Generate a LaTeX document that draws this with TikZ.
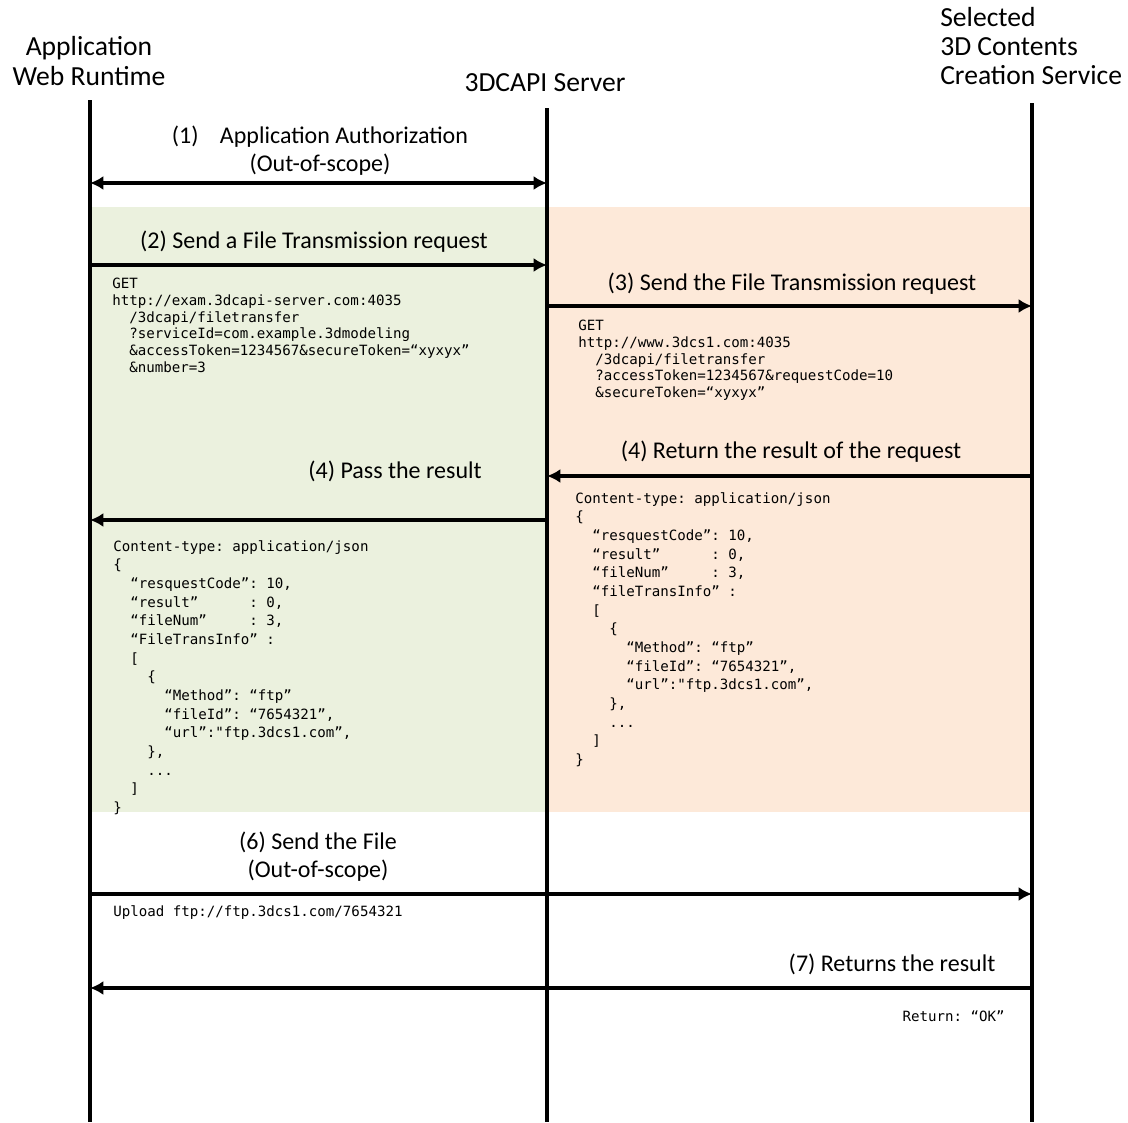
\documentclass[tikz,border=0pt]{standalone}
\usepackage{fontspec}
\setmainfont{Carlito}
\setmonofont{DejaVu Sans Mono}
\usetikzlibrary{arrows.meta}
\definecolor{reqgreen}{RGB}{235,241,222}
\definecolor{resorange}{RGB}{253,233,217}
\newcommand\codeind[1]{\hspace*{#1\dimexpr0.602em\relax}}
\begin{document}
\begin{tikzpicture}[x=0.75pt,y=-0.75pt,>={Latex[length=10pt,width=10.5pt]},
	life/.style={line width=2.4pt},
	msg/.style={line width=2.6pt,->},
	hdr/.style={font=\fontsize{20.7}{22}\selectfont,align=center,inner sep=0pt},
	lbl/.style={font=\fontsize{18}{21}\selectfont,align=center,inner sep=0pt},
	code/.style={font=\ttfamily\fontsize{10.6}{12.5}\selectfont\frenchspacing,align=left,inner sep=0pt,anchor=north west},
	json/.style={code,font=\ttfamily\fontsize{10.6}{14}\selectfont\frenchspacing}]
	\useasboundingbox (0,0) rectangle (1128,1122);
	% request / response areas
	\fill[reqgreen] (90,207) rectangle (547,812);
	\fill[resorange] (547,207) rectangle (1032,812);
	% lifelines
	\coordinate (app) at (90,100); \coordinate (srv) at (547,108); \coordinate (svc) at (1032,103);
	\coordinate (appbot) at (90,1122); \coordinate (srvbot) at (547,1122); \coordinate (svcbot) at (1032,1122);
	\draw[life] (app) -- (appbot) (srv) -- (srvbot) (svc) -- (svcbot);
	\node[hdr] (apphdr) at (89,61) {Application\\Web Runtime};
	\node[hdr] (srvhdr) at (545,83) {3DCAPI Server};
	\node[hdr,align=left,anchor=west] (svchdr) at (940,46) {Selected\\3D Contents\\Creation Service};
	% (1)
	\node[lbl] (auth) at (320,151) {(1)\hspace{16pt}Application Authorization\\(Out-of-scope)};
	\draw[msg,<->] (app |- 0,183) -- (srv |- 0,183);
	% (2)
	\node[lbl,anchor=base] (send) at (314,248) {(2) Send a File Transmission request};
	\draw[msg] (app |- 0,265) -- (srv |- 0,265);
	\node[code] (req1) at (112,278) {GET\\
		http://exam.3dcapi-server.com:4035\\
		\codeind{2}/3dcapi/filetransfer\\
		\codeind{2}?serviceId=com.example.3dmodeling\\
		\codeind{2}\&accessToken=1234567\&secureToken=“xyxyx”\\
		\codeind{2}\&number=3};
	% (3)
	\node[lbl,anchor=base] (fwd) at (792,290) {(3) Send the File Transmission request};
	\draw[msg] (srv |- 0,306) -- (svc |- 0,306);
	\node[code] (req2) at (578,320) {GET\\
		http://www.3dcs1.com:4035\\
		\codeind{2}/3dcapi/filetransfer\\
		\codeind{2}?accessToken=1234567\&requestCode=10\\
		\codeind{2}\&secureToken=“xyxyx”};
	% (4) return
	\node[lbl,anchor=base] (ret) at (791,458) {(4) Return the result of the request};
	\draw[msg] (svc |- 0,476) -- (srv |- 0,476);
	\node[json] (res2) at (575,492) {Content-type: application/json\\
		\{\\
		\codeind{2}“resquestCode”: 10,\\
		\codeind{2}“result”\codeind{6}: 0,\\
		\codeind{2}“fileNum”\codeind{5}: 3,\\
		\codeind{2}“fileTransInfo” :\\
		\codeind{2}[\\
		\codeind{4}\{\\
		\codeind{6}“Method”: “ftp”\\
		\codeind{6}“fileId”: “7654321”,\\
		\codeind{6}“url”:"ftp.3dcs1.com”,\\
		\codeind{4}\},\\
		\codeind{4}...\\
		\codeind{2}]\\
		\}};
	% (4) pass
	\node[lbl,anchor=base] (pass) at (395,478) {(4) Pass the result};
	\draw[msg] (srv |- 0,520) -- (app |- 0,520);
	\node[json] (res1) at (113,540) {Content-type: application/json\\
		\{\\
		\codeind{2}“resquestCode”: 10,\\
		\codeind{2}“result”\codeind{6}: 0,\\
		\codeind{2}“fileNum”\codeind{5}: 3,\\
		\codeind{2}“FileTransInfo” :\\
		\codeind{2}[\\
		\codeind{4}\{\\
		\codeind{6}“Method”: “ftp”\\
		\codeind{6}“fileId”: “7654321”,\\
		\codeind{6}“url”:"ftp.3dcs1.com”,\\
		\codeind{4}\},\\
		\codeind{4}...\\
		\codeind{2}]\\
		\}};
	% (6)
	\node[lbl] (file) at (318,857) {(6) Send the File\\(Out-of-scope)};
	\draw[msg] (app |- 0,894) -- (svc |- 0,894);
	\node[code,anchor=west] (upl) at (113,913) {Upload ftp://ftp.3dcs1.com/7654321};
	% (7)
	\node[lbl,anchor=base] (res) at (892,971) {(7) Returns the result};
	\draw[msg] (svc |- 0,988) -- (app |- 0,988);
	\node[code,anchor=east] (ok) at (1005,1016) {Return: “OK”};
\end{tikzpicture}
\end{document}
